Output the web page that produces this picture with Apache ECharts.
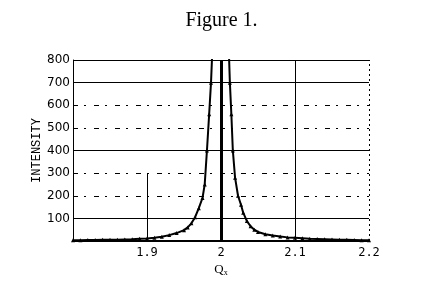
<!DOCTYPE html>
<html><head><meta charset="utf-8">
<script src="https://cdn.jsdelivr.net/npm/echarts@6/dist/echarts.min.js"></script>
<style>html,body{margin:0;padding:0;background:#fff}#c{width:443px;height:289px}</style>
</head><body><div id="c"></div>
<script>
const qx = [1.80,1.81,1.82,1.83,1.84,1.85,1.86,1.87,1.88,1.89,1.90,1.91,1.92,1.93,1.94,1.95,1.955,1.96,1.965,1.97,1.975,1.978,1.981,1.984,1.9865,1.989,1.992,1.995,
            2.004,2.007,2.010,2.012,2.014,2.016,2.019,2.023,2.027,2.030,2.035,2.040,2.045,2.050,2.060,2.070,2.080,2.090,2.100,2.110,2.120,2.130,2.140,2.150,2.160,2.170,2.180,2.190,2.200];
const intensity = [3,3,4,4,5,5,6,7,8,10,11,14,19,26,35,48,60,78,105,145,190,250,400,560,700,900,1400,2500,
            2500,1400,900,700,560,400,280,200,160,125,88,65,50,40,30,24,20,16,14,12,10,9,8,7,6,5,4,3,3];
const xTicks = [1.9, 2, 2.1, 2.2];
const yTicks = [100, 200, 300, 400, 500, 600, 700, 800];
const solidGrid = [100, 400, 700, 800];
const brokenGrid = [200, 300, 500, 600];

const chart = echarts.init(document.getElementById('c'), null, {renderer: 'canvas'});
const near = (v, arr) => arr.some(t => Math.abs(t - v) < 1e-6);
const markData = [];
solidGrid.forEach(v => markData.push({yAxis: v, lineStyle: {type: 'solid', width: 1, color: '#000'}}));
brokenGrid.forEach(v => markData.push({yAxis: v, lineStyle: {type: [5, 6, 2, 8], width: 1, color: '#000'}}));
markData.push({xAxis: 2, lineStyle: {type: 'solid', width: 3, color: '#000'}});
markData.push({xAxis: 2.1, lineStyle: {type: 'solid', width: 1, color: '#000'}});
markData.push({xAxis: 2.2, lineStyle: {type: [2, 3], width: 1, color: '#000'}});
markData.push([{coord: [1.9, 0], lineStyle: {type: 'solid', width: 1, color: '#000'}}, {coord: [1.9, 300]}]);

chart.setOption({
  animation: false,
  backgroundColor: '#fff',
  title: {text: 'Figure 1.', left: 'center', top: 6,
    textStyle: {fontFamily: 'Liberation Serif', fontSize: 20, fontWeight: 'normal', color: '#000'}},
  grid: {left: 73, right: 74, top: 60, bottom: 48},
  xAxis: {type: 'value', min: 1.8, max: 2.2, interval: 0.1,
    name: 'Q{s|x}', nameLocation: 'middle', nameGap: 22, nameMoveOverlap: false,
    nameTextStyle: {fontFamily: 'Liberation Serif', fontSize: 13, color: '#000',
      rich: {s: {fontFamily: 'Liberation Serif', fontSize: 8, verticalAlign: 'bottom', padding: [6, 0, 0, 0], color: '#000'}}},
    axisLine: {show: true, lineStyle: {color: '#000', width: 2}},
    axisTick: {show: false}, splitLine: {show: false},
    axisLabel: {color: '#000', fontFamily: 'DejaVu Sans Mono', fontSize: 12, margin: 6,
      formatter: v => near(v, xTicks) ? String(Math.round(v * 10) / 10) : ''}},
  yAxis: {type: 'value', min: 0, max: 800, interval: 100,
    name: 'INTENSITY', nameLocation: 'middle', nameGap: 30, nameRotate: 90, nameMoveOverlap: false,
    nameTextStyle: {fontFamily: 'Liberation Mono', fontSize: 12, color: '#000'},
    axisLine: {show: true, lineStyle: {color: '#000', width: 1}},
    axisTick: {show: false}, splitLine: {show: false},
    axisLabel: {color: '#000', fontFamily: 'DejaVu Sans', fontSize: 12, margin: 3,
      formatter: v => near(v, yTicks) ? String(v) : ''}},
  series: [
    {type: 'line', data: [], silent: true,
      markLine: {silent: true, symbol: ['none', 'none'], label: {show: false}, animation: false, data: markData}},
    {type: 'line', data: qx.map((x, i) => [x, intensity[i]]), clip: true,
      lineStyle: {color: '#000', width: 2}, itemStyle: {color: '#000'},
      symbol: 'triangle', symbolSize: 4, showSymbol: true, showAllSymbol: true}
  ]
});
</script></body></html>
